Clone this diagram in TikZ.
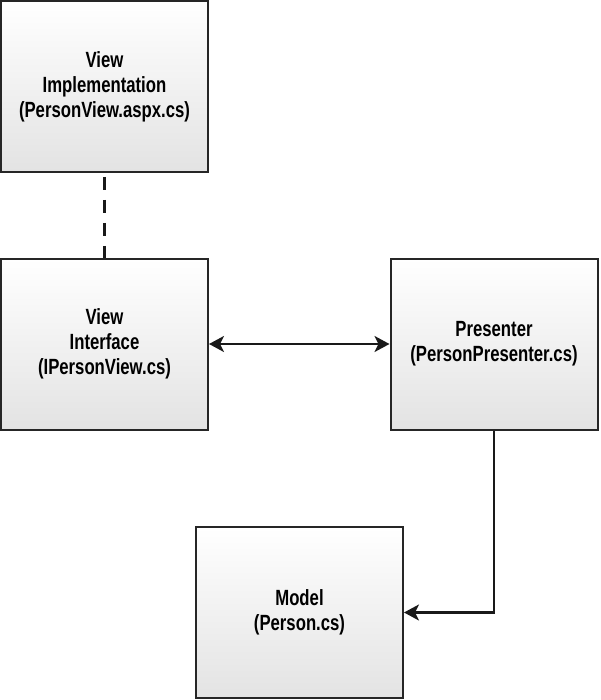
\documentclass[tikz,border=0pt]{standalone}
\usepackage{fontspec}
\setmainfont{Liberation Sans}[FakeStretch=0.78,BoldFeatures={FakeStretch=0.76}]
\usetikzlibrary{arrows.meta}
\tikzset{
  box/.style={draw=black!85, line width=2pt, top color=white, bottom color=black!11,
    minimum width=207pt, minimum height=171pt, align=center, inner sep=0pt,
    font=\fontsize{22}{25}\selectfont\bfseries},
  link/.style={line width=2.4pt, black!90, >={Stealth[length=15pt,width=16pt,inset=4pt]}}
}
\begin{document}
\begin{tikzpicture}[x=1pt,y=-1pt]
\useasboundingbox (0,0) rectangle (600,700);
\node[box] (impl) at (104.5,86.5) {View\\Implementation\\(PersonView.aspx.cs)};
\node[box] (iface) at (104.5,344) {View\\Interface\\(IPersonView.cs)};
\node[box] (pres) at (494,344) {Presenter\\(PersonPresenter.cs)};
\node[box] (model) at (299.5,612.5) {Model\\(Person.cs)};
\draw[link, dash pattern=on 13pt off 10pt, dash phase=-4pt] (impl.south) -- (iface.north);
\draw[link, <->] (iface.east) -- (pres.west);
\draw[link, ->] (pres.south) |- (model.east);
\end{tikzpicture}
\end{document}
